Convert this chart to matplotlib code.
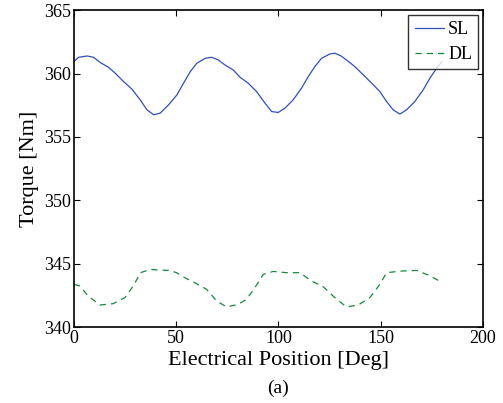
import matplotlib
matplotlib.use("Agg")
import matplotlib.pyplot as plt

sl_x = [0, 2.3, 6.4, 9.6, 12.9, 16.9, 20.2, 24.3, 28.4, 32.4, 35.7, 39.0, 42.2, 46.3, 50.4,
        53.6, 56.9, 60.1, 64.2, 67.3, 70.6, 73.8, 77.9, 81.2, 85.2, 89.3, 93.4, 96.7, 99.9,
        103.2, 107.2, 111.3, 114.6, 117.8, 121.1, 125.2, 127.6, 130.5, 133.3, 137.4, 141.5,
        145.6, 149.6, 152.9, 156.1, 159.4, 162.7, 166.7, 170.8, 174.1, 177.4, 180]
sl_y = [360.94, 361.28, 361.38, 361.28, 360.86, 360.49, 360.02, 359.36, 358.76, 357.92,
        357.14, 356.75, 356.88, 357.53, 358.32, 359.24, 360.15, 360.81, 361.2, 361.28,
        361.07, 360.68, 360.28, 359.71, 359.24, 358.58, 357.67, 357.0, 356.93, 357.27,
        357.92, 358.84, 359.76, 360.54, 361.2, 361.54, 361.6, 361.4, 361.07, 360.54, 359.89,
        359.24, 358.58, 357.79, 357.14, 356.8, 357.14, 357.79, 358.71, 359.63, 360.42, 360.95]

dl_x = [0, 2.9, 7, 12.7, 19.2, 24.9, 29, 32.6, 37.2, 42, 46.9, 50.2, 54.3, 59.2, 64.9, 69.8,
        74.7, 80.3, 84.4, 88.5, 92.6, 97.5, 104, 110.5, 116.2, 121.9, 127.6, 133.3, 139,
        144.7, 149.6, 152.9, 160.2, 167.6, 173.3, 179.3]
dl_y = [343.38, 343.25, 342.46, 341.75, 341.86, 342.33, 343.25, 344.3, 344.56, 344.5, 344.48,
        344.3, 343.9, 343.5, 342.99, 342.07, 341.6, 341.8, 342.2, 343.12, 344.17, 344.4,
        344.3, 344.3, 343.64, 343.2, 342.33, 341.6, 341.75, 342.33, 343.38, 344.3, 344.43,
        344.48, 344.11, 343.6]

series_labels = ["SL", "DL"]
x_ticks = [0, 50, 100, 150, 200]
y_ticks = [340, 345, 350, 355, 360, 365]

plt.rcParams['font.family'] = ['Liberation Serif', 'DejaVu Serif']

fig = plt.figure(figsize=(5.03, 4.03), dpi=100)
ax = fig.add_axes([0.147, 0.188, 0.813, 0.787])

ax.plot(sl_x, sl_y, color='#2f4fc4', lw=0.9, label=series_labels[0],
        solid_joinstyle='round', solid_capstyle='round')
ax.plot(dl_x, dl_y, color='#138a3c', lw=0.9, ls=(0, (5, 4)), label=series_labels[1])

ax.set_xlim(0, 200)
ax.set_ylim(340, 365)
ax.set_xticks(x_ticks)
ax.set_yticks(y_ticks)
ax.tick_params(direction='in', top=True, right=True, labelsize=13, length=4, width=0.8, pad=2)
for s in ax.spines.values():
    s.set_linewidth(1.2)

ax.set_xlabel("Electrical Position [Deg]", fontsize=16, labelpad=3)
ax.set_ylabel("Torque [Nm]", fontsize=16, labelpad=4)
fig.text(0.5 * (0.147 + 0.96), 0.037, "(a)", ha='center', va='center', fontsize=14)

leg = ax.legend(loc='upper right', fontsize=13, frameon=True, fancybox=False,
                edgecolor='black', borderpad=0.35, handlelength=1.6, handletextpad=0.25,
                labelspacing=0.45, borderaxespad=0.25)
leg.get_frame().set_linewidth(1.0)

fig.savefig("out.png", dpi=100)
